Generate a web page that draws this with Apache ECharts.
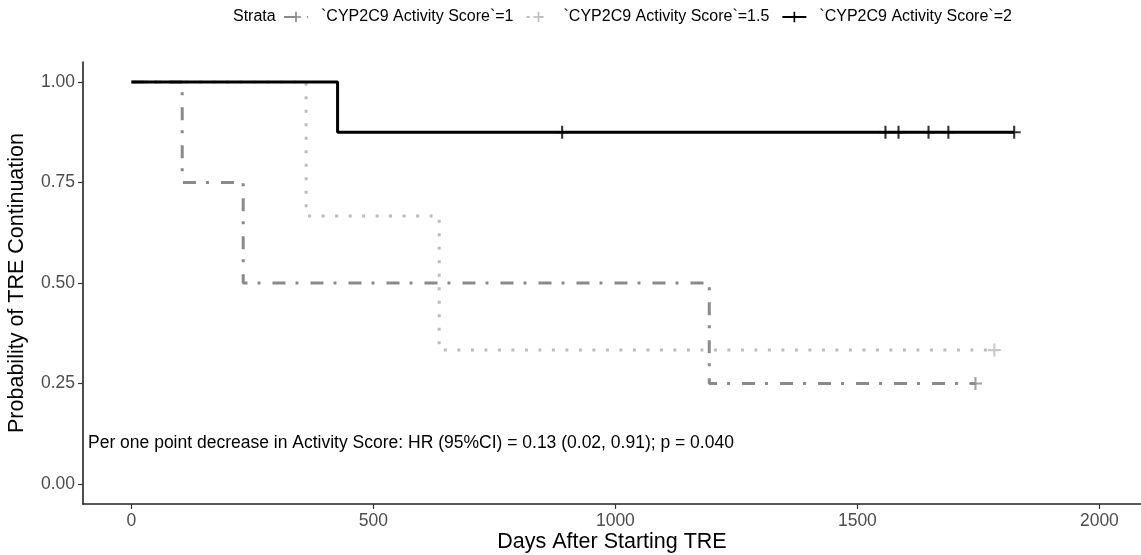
<!DOCTYPE html>
<html>
<head>
<meta charset="utf-8">
<script src="https://cdn.jsdelivr.net/npm/echarts@6/dist/echarts.min.js"></script>
<style>
  html, body { margin: 0; padding: 0; background: #fff; }
  #chart { width: 1141px; height: 555px; }
</style>
</head>
<body>
<div id="chart"></div>
<script>
// Kaplan-Meier steps per stratum: [days, survival]
const strataNames = [
  '`CYP2C9 Activity Score`=1',
  '`CYP2C9 Activity Score`=1.5',
  '`CYP2C9 Activity Score`=2'
];
const score1Steps = [[0, 1], [105, 0.75], [231, 0.5], [1194, 0.25], [1744, 0.25]];
const score15Steps = [[0, 1], [361, 0.667], [636, 0.333], [1783, 0.333]];
const score2Steps = [[0, 1], [426, 0.875], [1824, 0.875]];

// censored observations
const score1Censor = [[1744, 0.25]];
const score15Censor = [[1783, 0.333]];
const score2Censor = [[890, 0.875], [1558, 0.875], [1585, 0.875], [1647, 0.875], [1688, 0.875], [1824, 0.875]];

const xTicks = [0, 500, 1000, 1500, 2000];
const yTicks = [0, 0.25, 0.5, 0.75, 1];

const colors = ['#8a8a8a', '#bcbcbc', '#000000'];
const dashes = [[13, 10, 3, 12], [3, 10.5], 'solid'];
const plus = 'path://M4.2,0h1.6v4.2h4.2v1.6h-4.2v4.2h-1.6v-4.2h-4.2v-1.6h4.2z';
const FONT = 'Liberation Sans, Arial, sans-serif';

const chart = echarts.init(document.getElementById('chart'));

const stepData = [score1Steps, score15Steps, score2Steps];
const censorData = [score1Censor, score15Censor, score2Censor];

const series = [];
stepData.forEach((d, i) => {
  series.push({
    name: strataNames[i],
    type: 'line',
    step: 'end',
    data: d,
    symbol: plus,
    symbolSize: 12,
    showSymbol: false,
    lineStyle: { color: colors[i], width: 3, type: dashes[i], cap: 'butt' },
    itemStyle: { color: colors[i] },
    z: i === 2 ? 5 : 3,
    silent: true
  });
});
censorData.forEach((d, i) => {
  series.push({
    name: 'censor' + i,
    type: 'scatter',
    data: d,
    symbol: plus,
    symbolSize: 13,
    itemStyle: { color: colors[i] },
    z: 6,
    silent: true
  });
});

chart.setOption({
  animation: false,
  textStyle: { fontFamily: FONT },
  grid: { left: 83, right: 0, top: 62, bottom: 51, outerBoundsMode: 'none' },
  legend: {
    data: strataNames,
    left: 278,
    top: 4,
    itemWidth: 24,
    itemHeight: 13,
    itemGap: 12,
    textStyle: { fontSize: 16, color: '#000', padding: [0, 0, 0, 8] }
  },
  graphic: [
    {
      type: 'text', left: 233, top: 9,
      style: { text: 'Strata', fontSize: 16, fill: '#000', fontFamily: FONT }
    },
    {
      type: 'text', left: 88, top: 434,
      style: {
        text: 'Per one point decrease in Activity Score: HR (95%CI) = 0.13 (0.02, 0.91); p = 0.040',
        fontSize: 17.5, fill: '#000', fontFamily: FONT
      }
    }
  ],
  xAxis: {
    type: 'value',
    min: -100,
    max: 2086,
    name: 'Days After Starting TRE',
    nameLocation: 'middle',
    nameMoveOverlap: false,
    nameGap: 27,
    nameTextStyle: { fontSize: 21.5, color: '#000' },
    axisLine: { onZero: false, lineStyle: { color: '#222', width: 1.6 } },
    axisTick: { customValues: xTicks, length: 5, lineStyle: { color: '#333', width: 1.2 } },
    axisLabel: { customValues: xTicks, fontSize: 17.5, color: '#4d4d4d', margin: 8,
      formatter: (v) => String(v) },
    splitLine: { show: false }
  },
  yAxis: {
    type: 'value',
    min: -0.05,
    max: 1.05,
    name: 'Probability of TRE Continuation',
    nameLocation: 'middle',
    nameMoveOverlap: false,
    nameGap: 55,
    nameTextStyle: { fontSize: 21.5, color: '#000' },
    axisLine: { show: true, onZero: false, lineStyle: { color: '#222', width: 1.6 } },
    axisTick: { show: true, customValues: yTicks, length: 5, lineStyle: { color: '#333', width: 1.2 } },
    axisLabel: { customValues: yTicks, fontSize: 17.5, color: '#4d4d4d', margin: 8,
      formatter: (v) => v.toFixed(2) },
    splitLine: { show: false }
  },
  series: series
});
</script>
</body>
</html>
